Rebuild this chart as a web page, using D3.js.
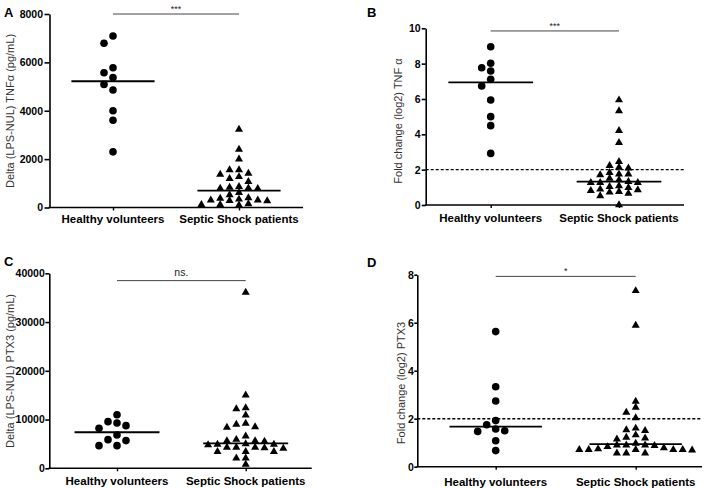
<!DOCTYPE html>
<html><head><meta charset="utf-8">
<script src="https://cdn.jsdelivr.net/npm/d3@7"></script>
<style>body{margin:0;background:#fff}svg{display:block}text{font-family:"Liberation Sans",Arial,sans-serif}</style>
</head><body>
<svg id="c" width="708" height="488"></svg>
<script>
const categories = ["Healthy volunteers", "Septic Shock patients"];
const A_healthy = [7090, 6790, 5780, 5570, 5370, 5090, 4860, 4000, 3610, 2300];
const A_septic = [3230, 2400, 2000, 1550, 1550, 1410, 1370, 1270, 1190, 1070, 860, 830, 800, 790, 780, 610, 520, 400, 380, 340, 300, 300, 280, 270, 150, 120, 120, 100];
const A_medians = [5220, 700];
const A_ticks = [0, 2000, 4000, 6000, 8000];
const B_healthy = [8.96, 8.02, 7.77, 7.58, 7.11, 6.74, 5.94, 5.0, 4.49, 2.92];
const B_septic = [5.94, 5.32, 4.21, 3.53, 2.45, 2.23, 2.13, 2.08, 1.83, 1.75, 1.75, 1.70, 1.51, 1.42, 1.32, 1.26, 1.26, 1.26, 1.08, 1.04, 0.98, 0.89, 0.85, 0.81, 0.75, 0.72, 0.66, 0.51, 0.0];
const B_medians = [6.94, 1.32];
const B_ticks = [0, 2, 4, 6, 8, 10];
const C_healthy = [11000, 9570, 9300, 8750, 8200, 6840, 5880, 5680, 4650, 4650];
const C_septic = [36100, 15000, 12400, 12200, 10900, 9200, 9000, 8500, 8400, 6600, 5900, 5600, 5600, 5500, 5000, 4900, 4900, 4800, 4300, 4300, 4300, 4200, 4100, 3400, 3400, 3400, 2100, 2100, 800];
const C_medians = [7400, 5100];
const C_ticks = [0, 10000, 20000, 30000, 40000];
const D_healthy = [5.63, 3.33, 2.74, 1.92, 1.75, 1.57, 1.5, 1.47, 1.08, 0.67];
const D_septic = [7.33, 5.89, 2.72, 2.47, 2.26, 2.03, 1.6, 1.53, 1.5, 1.32, 1.22, 1.19, 1.15, 0.97, 0.9, 0.9, 0.9, 0.88, 0.83, 0.78, 0.74, 0.71, 0.71, 0.71, 0.71, 0.71, 0.69, 0.56, 0.56, 0.56];
const D_medians = [1.67, 0.94];
const D_ticks = [0, 2, 4, 6, 8];

const panels = [
  {letter:"A", lx:4, ly:17, title:"Delta (LPS-NUL) TNF\u03b1 (pg/mL)", tx:10, ty:111,
   x0:49.5, x1:303, cx:[113,239], yTop:14, yBot:207.5, max:8000, ticks:A_ticks, tk:5, tp:1.5,
   h:A_healthy, s:A_septic, med:A_medians, sig:"***", sigV:8000, dash:null, labY:223},
  {letter:"B", lx:367, ly:17, title:"Fold change (log2) TNF \u03b1", tx:398, ty:121,
   x0:425.7, x1:684, cx:[490.7,619], yTop:28.3, yBot:205, max:10, ticks:B_ticks, tk:4, tp:1,
   h:B_healthy, s:B_septic, med:B_medians, sig:"***", sigV:9.85, dash:2, labY:221.5},
  {letter:"C", lx:4, ly:266, title:"Delta (LPS-NUL) PTX3 (pg/mL)", tx:10, ty:371,
   x0:49.3, x1:311.7, cx:[117,245.7], yTop:273.3, yBot:468.3, max:40000, ticks:C_ticks, tk:4, tp:0.5,
   h:C_healthy, s:C_septic, med:C_medians, sig:"ns.", sigV:38500, dash:null, labY:485},
  {letter:"D", lx:367, ly:267, title:"Fold change (log2) PTX3", tx:401, ty:383,
   x0:417.3, x1:702, cx:[495.7,635.7], yTop:274.7, yBot:466.7, max:8, ticks:D_ticks, tk:3, tp:0.5,
   h:D_healthy, s:D_septic, med:D_medians, sig:"*", sigV:7.93, dash:2, labY:485.5}
];

const svg = d3.select("#c");

// GraphPad-like scatter: columns offset in half-steps, collide within a rectangle
function swarm(vals, y, dw, dh) {
  const pts = vals.map(v => ({v, py: y(v), off: 0})).sort((a, b) => b.v - a.v);
  const placed = [];
  pts.forEach(p => {
    for (let k = 0; k < 60; k++) {
      const cands = k === 0 ? [0] : [-k * dw / 2, k * dw / 2];
      let found = null;
      for (const off of cands) {
        if (placed.every(q => Math.abs(off - q.off) >= dw - 0.01 || Math.abs(p.py - q.py) >= dh)) { found = off; break; }
      }
      if (found !== null) { p.off = found; break; }
    }
    placed.push(p);
  });
  return pts;
}

panels.forEach(P => {
  const g = svg.append("g");
  const y = d3.scaleLinear().domain([0, P.max]).range([P.yBot, P.yTop]);
  const x = d3.scalePoint().domain(categories).range(P.cx);
  const step = P.cx[1] - P.cx[0];

  g.append("text").attr("x", P.lx).attr("y", P.ly).text(P.letter)
    .attr("font-size", 13).attr("font-weight", "bold");
  g.append("text").attr("transform", `translate(${P.tx},${P.ty}) rotate(-90)`)
    .attr("text-anchor", "middle").attr("dominant-baseline", "central")
    .attr("font-size", 11).attr("fill", "#333").text(P.title);

  const ya = g.append("g").attr("transform", `translate(${P.x0},0)`)
    .call(d3.axisLeft(y).tickValues(P.ticks).tickSize(P.tk).tickSizeOuter(0).tickPadding(P.tp).tickFormat(d3.format("d")));
  ya.select(".domain").attr("stroke-width", 1.6);
  ya.selectAll(".tick line").attr("stroke-width", 1.6);
  ya.selectAll(".tick text").attr("font-size", 10.5).attr("font-weight", "bold").attr("fill", "#000")
    .attr("font-family", '"Liberation Sans",Arial,sans-serif');

  g.append("line").attr("x1", P.x0 - 0.8).attr("x2", P.x1).attr("y1", P.yBot).attr("y2", P.yBot)
    .attr("stroke", "#000").attr("stroke-width", 1.6);
  const xa = g.append("g").attr("transform", `translate(0,${P.yBot})`)
    .call(d3.axisBottom(x).tickSize(3).tickFormat(""));
  xa.select(".domain").remove();
  xa.selectAll(".tick line").attr("stroke-width", 1.4);
  categories.forEach(c => {
    g.append("text").attr("x", x(c)).attr("y", P.labY).attr("text-anchor", "middle")
      .attr("font-size", 11.5).attr("font-weight", "bold").text(c);
  });

  if (P.dash !== null) {
    g.append("line").attr("x1", P.x0).attr("x2", P.x1).attr("y1", y(P.dash)).attr("y2", y(P.dash))
      .attr("stroke", "#000").attr("stroke-width", 1.4).attr("stroke-dasharray", "3,2");
  }

  const sy = y(P.sigV);
  g.append("line").attr("x1", x(categories[0])).attr("x2", x(categories[1])).attr("y1", sy).attr("y2", sy)
    .attr("stroke", "#444").attr("stroke-width", 1);
  g.append("text").attr("x", (x(categories[0]) + x(categories[1])) / 2)
    .attr("y", P.sig === "ns." ? sy - 4.5 : sy - 2).attr("text-anchor", "middle")
    .attr("font-size", P.sig === "ns." ? 10.5 : 9).attr("fill", "#222").text(P.sig);

  const hx = x(categories[0]), sxx = x(categories[1]);
  swarm(P.h, y, 9, 7.5).forEach(p => {
    g.append("circle").attr("cx", hx + p.off).attr("cy", p.py).attr("r", 3.8).attr("fill", "#000");
  });
  const tri = d3.symbol().type(d3.symbolTriangle).size(28);
  swarm(P.s, y, 9.4, 5.6).forEach(p => {
    g.append("path").attr("d", tri).attr("transform", `translate(${sxx + p.off},${p.py})`).attr("fill", "#000");
  });

  P.med.forEach((m, i) => {
    const cx = x(categories[i]);
    g.append("line").attr("x1", cx - 0.33 * step).attr("x2", cx + 0.33 * step)
      .attr("y1", y(m)).attr("y2", y(m)).attr("stroke", "#000").attr("stroke-width", 1.8);
  });
});
</script>
</body></html>
